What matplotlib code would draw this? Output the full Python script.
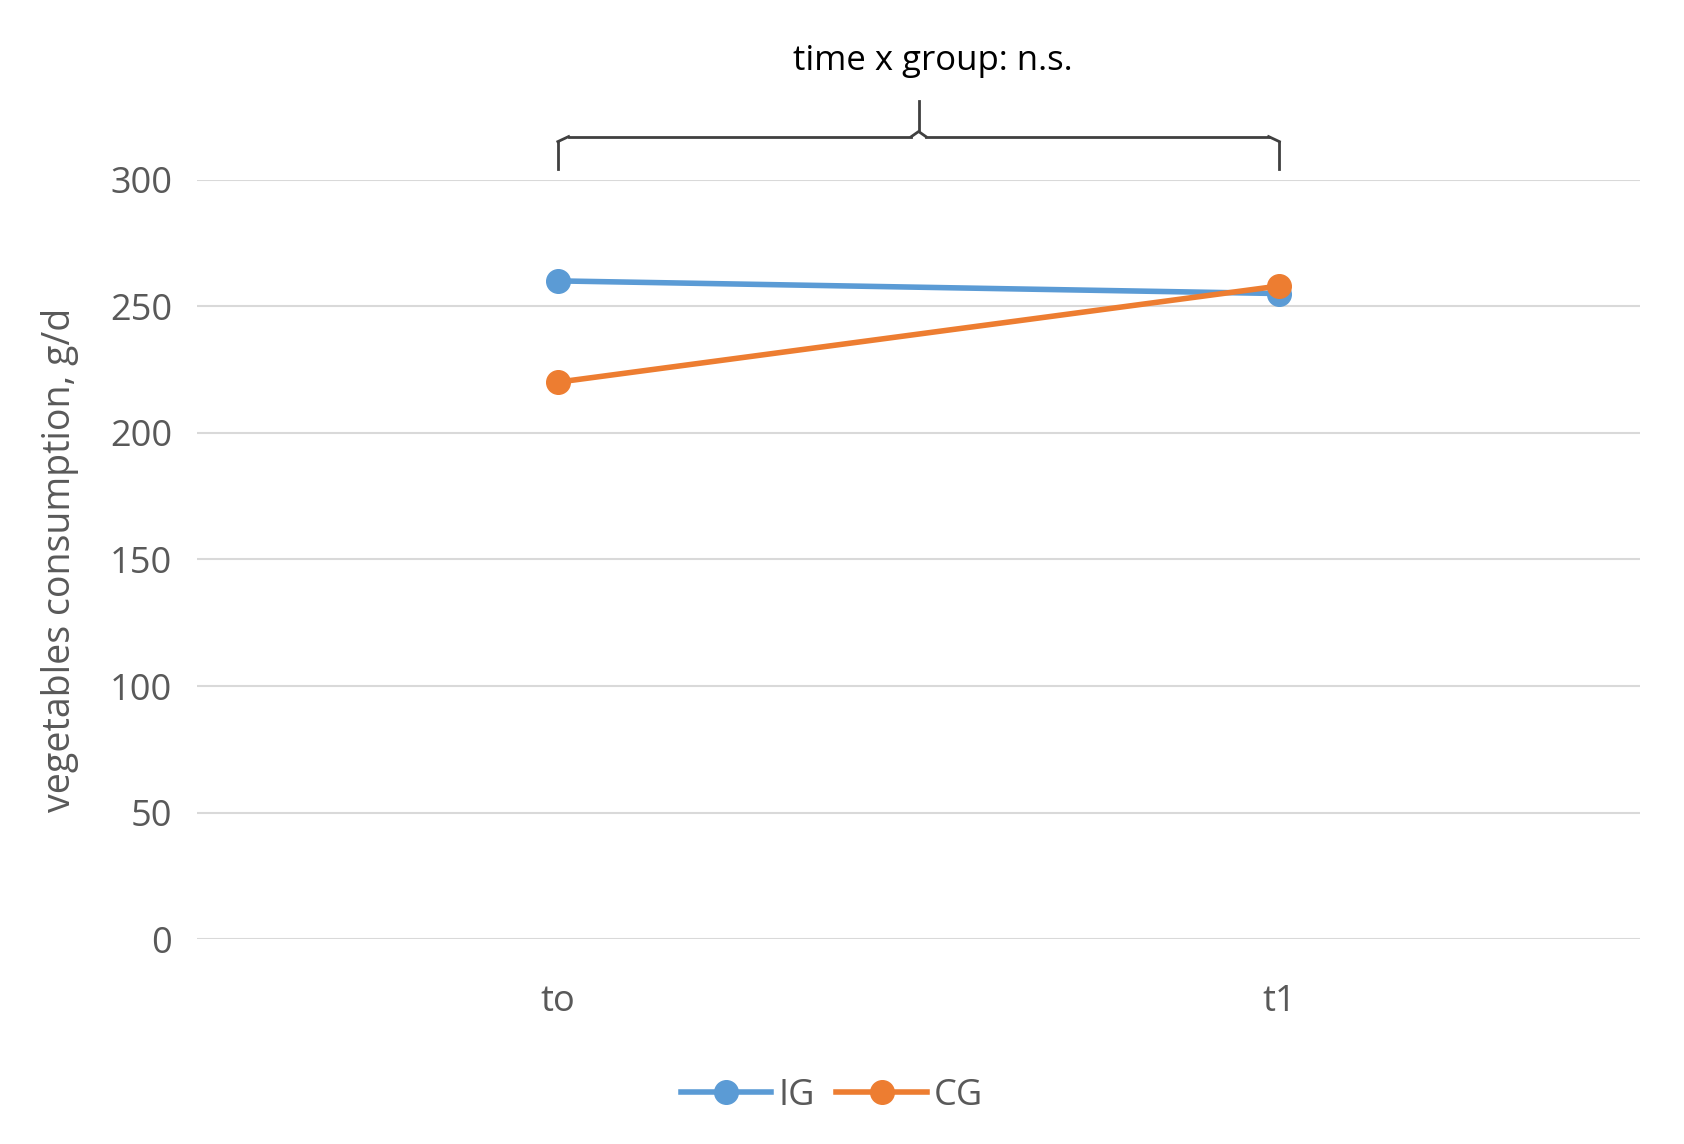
import matplotlib.pyplot as plt

plt.rcParams['font.family'] = ['Open Sans', 'DejaVu Sans']

times = ['to', 't1']
ig = [260, 255]
cg = [220, 258]

fig = plt.figure(figsize=(16.84, 11.44), dpi=100)
ax = fig.add_axes([0.117, 0.179, 0.857, 0.664])
x = range(len(times))
ax.plot(x, ig, color='#5B9BD5', lw=4, marker='o', ms=17, label='IG', zorder=3)
ax.plot(x, cg, color='#ED7D31', lw=4, marker='o', ms=17, label='CG', zorder=4)

ax.set_xlim(-0.5, 1.5)
ax.set_ylim(0, 300)
ax.set_yticks(range(0, 301, 50))
ax.set_xticks(list(x))
ax.set_xticklabels(times)
ax.yaxis.grid(True, color='#D9D9D9', lw=1.5)
ax.set_axisbelow(True)
for s in ax.spines.values():
    s.set_visible(False)
ax.tick_params(length=0, labelsize=26, colors='#595959', pad=18)
ax.tick_params(axis='x', pad=32)
ax.set_ylabel('vegetables consumption, g/d', fontsize=27, color='#595959', labelpad=22)

# brace for interaction annotation
bc = '#404040'
kw = dict(color=bc, lw=2, clip_on=False)
ax.plot([0, 0], [304, 315], **kw)
ax.plot([1, 1], [304, 315], **kw)
ax.plot([0.015, 0.5 - 0.01], [317, 317], **kw)
ax.plot([0.5 + 0.01, 0.985], [317, 317], **kw)
ax.plot([0, 0.015], [315, 317], **kw)
ax.plot([0.985, 1], [317, 315], **kw)
ax.plot([0.49, 0.5, 0.51], [317, 319, 317], **kw)
ax.plot([0.5, 0.5], [319, 331], **kw)
ax.text(0.52, 347, 'time x group: n.s.', ha='center', va='center', fontsize=25, color='black')

ax.legend(loc='upper center', bbox_to_anchor=(0.44, -0.14), ncol=2, frameon=False,
          fontsize=26, labelcolor='#595959', handlelength=2.5, columnspacing=0.6,
          handletextpad=0.2)

fig.savefig('out.png')
